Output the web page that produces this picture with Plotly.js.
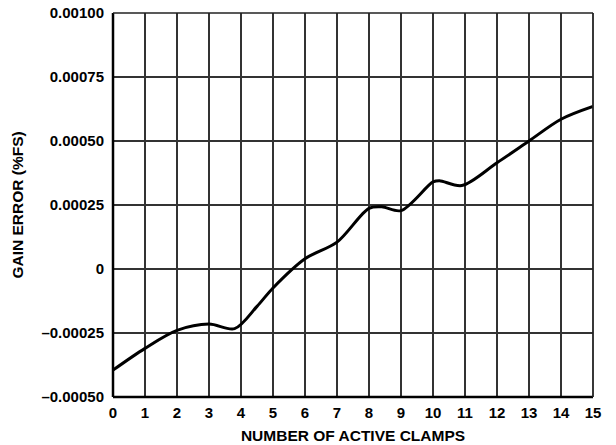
<!DOCTYPE html>
<html>
<head>
<meta charset="utf-8">
<script src="https://cdn.plot.ly/plotly-3.0.1.min.js"></script>
<style>html,body{margin:0;padding:0;background:#fff;}#chart{width:616px;height:445px;}</style>
</head>
<body>
<div id="chart"></div>
<script>
// Number of active clamps (x) and gain error in %FS (y)
const clamps = [0, 1, 2, 3, 3.8, 4.5, 5, 6, 7, 8, 8.4, 9, 10, 10.2, 10.9, 12, 13, 14, 15];
const gainError = [-0.000395, -0.00031, -0.00024, -0.000215, -0.000233, -0.000146, -0.000074, 0.00004, 0.000105, 0.000237, 0.000243, 0.000228, 0.00034, 0.000345, 0.000326, 0.000415, 0.0005, 0.000585, 0.000635];

const xTicks = [0,1,2,3,4,5,6,7,8,9,10,11,12,13,14,15];
const yTickVals = [-0.0005, -0.00025, 0, 0.00025, 0.0005, 0.00075, 0.001];
const yTickText = ["\u20130.00050", "\u20130.00025", "0", "0.00025", "0.00050", "0.00075", "0.00100"];

const trace = {
  x: clamps, y: gainError, type: 'scatter', mode: 'lines',
  line: {color: '#000', width: 3, shape: 'spline', smoothing: 0.9},
  hoverinfo: 'skip'
};

const fontFam = '"Liberation Sans", Arial, sans-serif';
const layout = {
  width: 616, height: 445,
  margin: {l: 113, r: 23, t: 13, b: 48},
  paper_bgcolor: '#fff', plot_bgcolor: '#fff',
  showlegend: false,
  font: {family: fontFam, color: '#000'},
  xaxis: {
    range: [0, 15], tickvals: xTicks, ticktext: xTicks.map(String),
    showgrid: true, gridcolor: '#333', gridwidth: 1.3,
    zeroline: false, showline: false, ticks: '', ticklabelstandoff: 5,
    tickfont: {family: fontFam, size: 15, weight: 'bold', color: '#000'},
    title: {text: '<b>NUMBER OF ACTIVE CLAMPS</b>', font: {family: fontFam, size: 15.5, color: '#000'}, standoff: 10}
  },
  yaxis: {
    range: [-0.0005, 0.001], tickvals: yTickVals, ticktext: yTickText,
    showgrid: true, gridcolor: '#333', gridwidth: 1.3,
    zeroline: false, showline: false, ticks: '', ticklabelstandoff: 8,
    tickfont: {family: fontFam, size: 15, weight: 'bold', color: '#000'},
    title: {text: '<b>GAIN ERROR (%FS)</b>', font: {family: fontFam, size: 15.5, color: '#000'}, standoff: 13}
  },
  shapes: [
    {type: 'line', xref: 'paper', yref: 'paper', x0: 0, x1: 0, y0: 0, y1: 1, line: {color: '#000', width: 2.5}},
    {type: 'line', xref: 'paper', yref: 'paper', x0: 0, x1: 1, y0: 0, y1: 0, line: {color: '#000', width: 2.5}},
    {type: 'line', xref: 'paper', yref: 'paper', x0: 0, x1: 1, y0: 1, y1: 1, line: {color: '#222', width: 1.5}},
    {type: 'line', xref: 'paper', yref: 'paper', x0: 1, x1: 1, y0: 0, y1: 1, line: {color: '#222', width: 1.8}}
  ]
};

Plotly.newPlot('chart', [trace], layout, {displayModeBar: false, staticPlot: true});
</script>
</body>
</html>
